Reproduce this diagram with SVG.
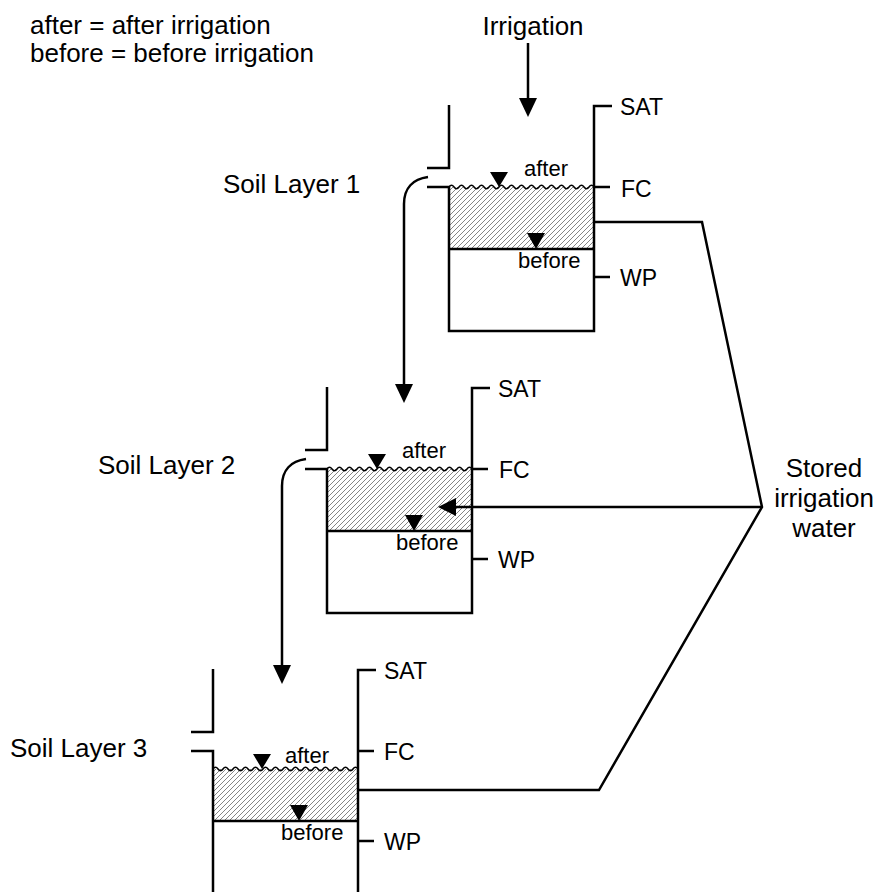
<svg xmlns="http://www.w3.org/2000/svg" width="888" height="892" viewBox="0 0 888 892">
<style>
text{font-family:"Liberation Sans",Arial,sans-serif;fill:#000}
.big{font-size:26px}
.lvl{font-size:23px}
.sm{font-size:22px}
.ln{fill:none;stroke:#000;stroke-width:2.5}
.wave{fill:none;stroke:#000;stroke-width:1.5}
.hatch{fill:url(#hatch)}
.tri{fill:#000}
</style>
<defs>
<pattern id="hatch" patternUnits="userSpaceOnUse" width="5" height="5">
<rect width="5" height="5" fill="#fff"/>
<path d="M-1,1 l2,-2 M0,5 l5,-5 M4,6 l2,-2" stroke="#777" stroke-width="0.9"/>
</pattern>
</defs>
<rect width="888" height="892" fill="#fff"/>
<g id="legend">
<text class="big" x="30" y="34">after = after irrigation</text>
<text class="big" x="30" y="62">before = before irrigation</text>
</g>
<g id="irrigation-label"><text class="big" x="533" y="35" text-anchor="middle">Irrigation</text></g>
<g id="stored-label">
<text class="big" x="824" y="477" text-anchor="middle">Stored</text>
<text class="big" x="824" y="507" text-anchor="middle">irrigation</text>
<text class="big" x="824" y="537" text-anchor="middle">water</text>
</g>
<g id="layer1">
<text class="big" x="223" y="193">Soil Layer 1</text>
<rect class="hatch" x="449" y="187" width="145" height="62"/>
<path class="wave" d="M449,187 q2.5,-3.5 5,0 t5,0 t5,0 t5,0 t5,0 t5,0 t5,0 t5,0 t5,0 t5,0 t5,0 t5,0 t5,0 t5,0 t5,0 t5,0 t5,0 t5,0 t5,0 t5,0 t5,0 t5,0 t5,0 t5,0 t5,0 t5,0 t5,0 t5,0 t5,0"/>
<path class="ln" d="M449,105 V168 H427"/>
<path class="ln" d="M427,187 H449 V331 H594 V106 H612"/>
<path class="ln" d="M594,187 H610 M594,277 H610 M449,249 H594"/>
<polygon class="tri" points="490,172 508,172 499,187"/>
<polygon class="tri" points="527,233 545,233 536,249"/>
<text class="sm" x="524" y="176">after</text>
<text class="sm" x="518" y="268">before</text>
<text class="lvl" x="620" y="115">SAT</text>
<text class="lvl" x="621" y="197">FC</text>
<text class="lvl" x="620" y="286">WP</text>
</g>
<g id="layer2">
<text class="big" x="98" y="474">Soil Layer 2</text>
<rect class="hatch" x="327" y="469" width="145" height="62"/>
<path class="wave" d="M327,469 q2.5,-3.5 5,0 t5,0 t5,0 t5,0 t5,0 t5,0 t5,0 t5,0 t5,0 t5,0 t5,0 t5,0 t5,0 t5,0 t5,0 t5,0 t5,0 t5,0 t5,0 t5,0 t5,0 t5,0 t5,0 t5,0 t5,0 t5,0 t5,0 t5,0 t5,0"/>
<path class="ln" d="M327,387 V450 H305"/>
<path class="ln" d="M305,469 H327 V613 H472 V388 H490"/>
<path class="ln" d="M472,469 H488 M472,559 H488 M327,531 H472"/>
<polygon class="tri" points="368,454 386,454 377,469"/>
<polygon class="tri" points="405,515 423,515 414,531"/>
<text class="sm" x="402" y="458">after</text>
<text class="sm" x="396" y="550">before</text>
<text class="lvl" x="498" y="397">SAT</text>
<text class="lvl" x="499" y="478">FC</text>
<text class="lvl" x="498" y="568">WP</text>
</g>
<g id="layer3">
<text class="big" x="10" y="757">Soil Layer 3</text>
<rect class="hatch" x="213" y="769" width="145" height="52"/>
<path class="wave" d="M213,769 q2.5,-3.5 5,0 t5,0 t5,0 t5,0 t5,0 t5,0 t5,0 t5,0 t5,0 t5,0 t5,0 t5,0 t5,0 t5,0 t5,0 t5,0 t5,0 t5,0 t5,0 t5,0 t5,0 t5,0 t5,0 t5,0 t5,0 t5,0 t5,0 t5,0 t5,0"/>
<path class="ln" d="M213,669 V732 H191"/>
<path class="ln" d="M191,751 H213 V895 M358,895 V670 H376"/>
<path class="ln" d="M358,751 H374 M358,841 H374 M213,821 H358"/>
<polygon class="tri" points="253,754 271,754 262,769"/>
<polygon class="tri" points="290,805 308,805 299,821"/>
<text class="sm" x="285" y="763">after</text>
<text class="sm" x="281" y="840">before</text>
<text class="lvl" x="384" y="679">SAT</text>
<text class="lvl" x="384" y="760">FC</text>
<text class="lvl" x="384" y="850">WP</text>
</g>
<g id="connectors">
<path class="ln" d="M528,43 V100"/>
<polygon class="tri" points="519,98 537,98 528,117"/>
<path class="ln" d="M428,177 C413,179 404,188 404,204 V386"/>
<polygon class="tri" points="395,384 413,384 404,403"/>
<path class="ln" d="M306,459 C291,461 282,470 282,486 V667"/>
<polygon class="tri" points="273,665 291,665 282,684"/>
<path class="ln" d="M594,222 H702 L762,507 L599,790 H358"/>
<path class="ln" d="M762,507 H455"/>
<polygon class="tri" points="438,507 456,498 456,516"/>
</g>
</svg>
